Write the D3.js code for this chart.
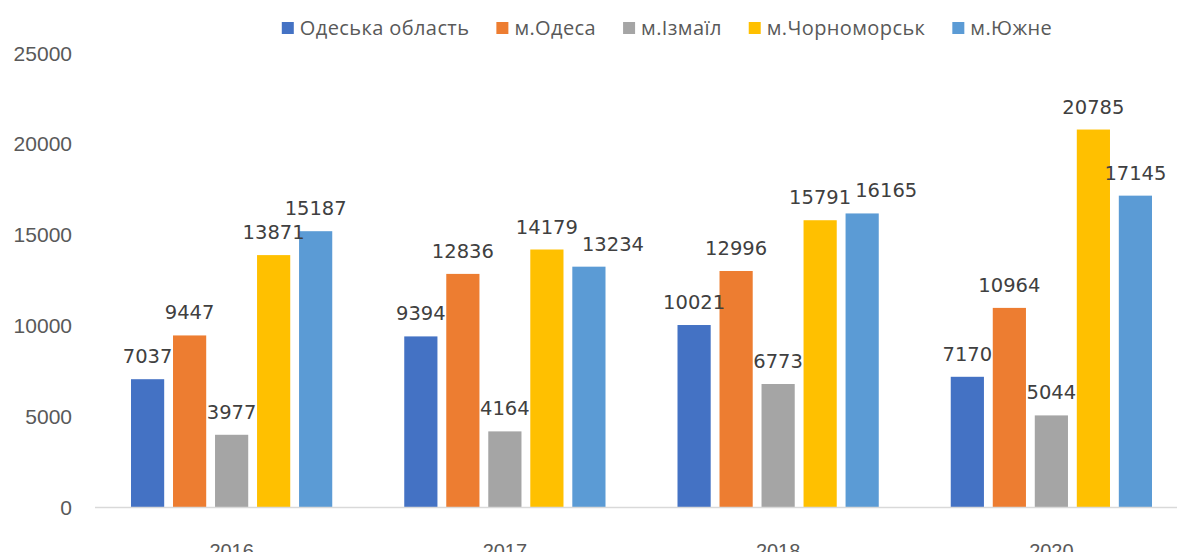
<!DOCTYPE html>
<html>
<head>
<meta charset="utf-8">
<script src="https://cdn.jsdelivr.net/npm/d3@7"></script>
<style>
  body { margin: 0; background: #fff; }
</style>
</head>
<body>
<div id="chart"></div>
<script>
const years = ["2016", "2017", "2018", "2020"];
const seriesNames = ["Одеська область", "м.Одеса", "м.Ізмаїл", "м.Чорноморськ", "м.Южне"];
const colors = ["#4472C4", "#ED7D31", "#A5A5A5", "#FFC000", "#5B9BD5"];
const odeskaOblast = [7037, 9394, 10021, 7170];
const odesa = [9447, 12836, 12996, 10964];
const izmail = [3977, 4164, 6773, 5044];
const chornomorsk = [13871, 14179, 15791, 20785];
const yuzhne = [15187, 13234, 16165, 17145];
const yTicks = [0, 5000, 10000, 15000, 20000, 25000];

const seriesValues = [odeskaOblast, odesa, izmail, chornomorsk, yuzhne];

const W = 1177, H = 552;
const svg = d3.select("#chart").append("svg")
  .attr("width", W).attr("height", H);

// scales
const x0 = d3.scaleBand().domain(years).range([95, 1188]).paddingInner(0).paddingOuter(0);
const x1 = d3.scaleBand().domain(seriesNames).range([36, x0.bandwidth() - 36]).paddingInner(0.21);
const y = d3.scaleLinear().domain([0, 25000]).range([507, 53]);

// y tick labels (no axis line)
svg.append("g")
  .selectAll("text")
  .data(yTicks)
  .join("text")
    .attr("x", 72)
    .attr("y", d => y(d))
    .attr("dy", "0.36em")
    .attr("text-anchor", "end")
    .attr("fill", "#595959")
    .style("font-family", "Liberation Sans, Arial, sans-serif")
    .style("font-size", "21px")
    .text(d => d);

// bars
const groups = svg.append("g")
  .selectAll("g")
  .data(years)
  .join("g")
    .attr("transform", d => `translate(${x0(d)},0)`);

const cellsFor = i => seriesNames.map((s, k) => ({ s, k, v: seriesValues[k][i] }));

groups.selectAll("rect")
  .data((yr, i) => cellsFor(i))
  .join("rect")
    .attr("x", d => x1(d.s))
    .attr("y", d => y(d.v))
    .attr("width", x1.bandwidth())
    .attr("height", d => y(0) - y(d.v))
    .attr("fill", d => colors[d.k]);

// baseline
svg.append("line")
  .attr("x1", 95).attr("x2", W)
  .attr("y1", y(0) + 0.5).attr("y2", y(0) + 0.5)
  .attr("stroke", "#d9d9d9").attr("stroke-width", 1.5);

// data labels
groups.each(function (yr, i) {
  const labels = d3.select(this).selectAll("text.lbl")
    .data(cellsFor(i))
    .join("text")
      .attr("class", "lbl")
      .attr("x", d => x1(d.s) + x1.bandwidth() / 2)
      .attr("y", d => y(d.v) - 16)
      .attr("text-anchor", "middle")
      .attr("fill", "#404040")
      .style("font-family", "DejaVu Sans, sans-serif")
      .style("font-size", "19.5px")
      .text(d => d.v);

  // push a label right when it runs into the one before it
  let prev = null;
  labels.each(function () {
    const b = this.getBBox();
    if (prev && b.x < prev.x + prev.width + 4 &&
        b.y < prev.y + prev.height && b.y + b.height > prev.y) {
      const shift = prev.x + prev.width + 4 - b.x;
      d3.select(this).attr("x", +d3.select(this).attr("x") + shift);
    }
    prev = this.getBBox();
  });
});

// x labels
svg.append("g")
  .selectAll("text")
  .data(years)
  .join("text")
    .attr("x", d => x0(d) + x0.bandwidth() / 2)
    .attr("y", 558)
    .attr("text-anchor", "middle")
    .attr("fill", "#595959")
    .style("font-family", "Liberation Sans, Arial, sans-serif")
    .style("font-size", "20px")
    .text(d => d);

// legend
const legend = svg.append("g");
const items = legend.selectAll("g")
  .data(seriesNames)
  .join("g");
items.append("rect")
  .attr("width", 12).attr("height", 12)
  .attr("y", 22)
  .attr("fill", (d, i) => colors[i]);
items.append("text")
  .attr("x", 18)
  .attr("y", 28)
  .attr("dy", "0.35em")
  .attr("fill", "#595959")
  .style("font-family", "Open Sans, sans-serif")
  .style("font-size", "20px")
  .style("letter-spacing", "0.4px")
  .text(d => d);

let cx = 0;
const offsets = [];
items.each(function () {
  const tw = d3.select(this).select("text").node().getComputedTextLength();
  offsets.push(cx);
  cx += 18 + tw + 27;
});
const totalW = cx - 27;
const startX = 667 - totalW / 2;
items.attr("transform", (d, i) => `translate(${startX + offsets[i]},0)`);
</script>
</body>
</html>
